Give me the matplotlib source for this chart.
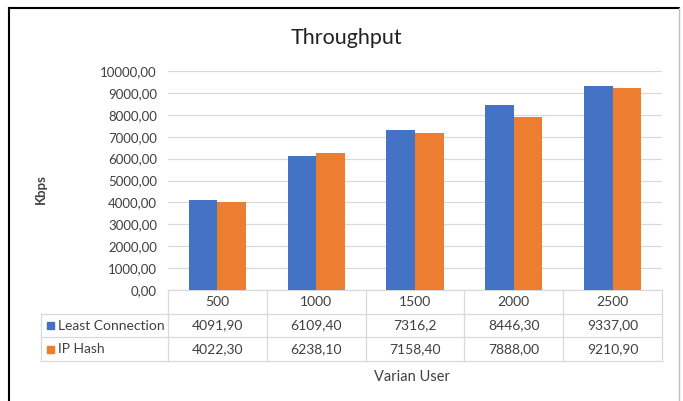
import matplotlib.pyplot as plt
from matplotlib.patches import Rectangle
from matplotlib.lines import Line2D

plt.rcParams['font.family'] = ['Lato', 'DejaVu Sans']

users = ["500", "1000", "1500", "2000", "2500"]
least_conn = [4091.90, 6109.40, 7316.2, 8446.30, 9337.00]
ip_hash = [4022.30, 6238.10, 7158.40, 7888.00, 9210.90]
least_conn_text = ["4091,90", "6109,40", "7316,2", "8446,30", "9337,00"]
ip_hash_text = ["4022,30", "6238,10", "7158,40", "7888,00", "9210,90"]
series_names = ["Least Connection", "IP Hash"]
yticks = [0, 1000, 2000, 3000, 4000, 5000, 6000, 7000, 8000, 9000, 10000]

blue = "#4472C4"
orange = "#ED7D31"
grid_c = "#D9D9D9"
text_c = "#404040"

W, H = 683, 401
fig = plt.figure(figsize=(W / 100, H / 100), dpi=100)
ax = fig.add_axes([168 / W, 1 - 290 / H, 494 / W, 219 / H])

x = list(range(len(users)))
bw = 0.29
ax.bar([i - bw / 2 for i in x], least_conn, width=bw, color=blue, zorder=3)
ax.bar([i + bw / 2 for i in x], ip_hash, width=bw, color=orange, zorder=3)

ax.set_xlim(-0.5, len(users) - 0.5)
ax.set_ylim(0, 10000)
ax.set_yticks(yticks)
ax.set_yticklabels([f"{v:.2f}".replace(".", ",") for v in yticks], fontsize=9.5, color=text_c)
ax.set_xticks([])
ax.tick_params(axis="y", length=0, pad=8)
ax.yaxis.grid(True, color=grid_c, linewidth=0.9, zorder=0)
for s in ax.spines.values():
    s.set_visible(False)

# data table under the plot
tr = ax.get_xaxis_transform()
row_h = 23.7 / 219
rows_y = [0, -row_h, -2 * row_h, -3 * row_h]
left_x = -0.5 - 127 / 99
right_x = len(users) - 0.5
lk = dict(transform=tr, color=grid_c, linewidth=0.9, clip_on=False)
ax.add_line(Line2D([-0.5, right_x], [0, 0], **lk))
for y in rows_y[1:]:
    ax.add_line(Line2D([left_x, right_x], [y, y], **lk))
for i in range(len(users) + 1):
    ax.add_line(Line2D([i - 0.5, i - 0.5], [rows_y[0], rows_y[3]], **lk))
ax.add_line(Line2D([left_x, left_x], [rows_y[1], rows_y[3]], **lk))

tk = dict(transform=tr, ha="center", va="center", fontsize=10, color=text_c, clip_on=False)
for i, u in enumerate(users):
    ax.text(i, -0.5 * row_h, u, **tk)
    ax.text(i, -1.5 * row_h, least_conn_text[i], **tk)
    ax.text(i, -2.5 * row_h, ip_hash_text[i], **tk)

for r, (name, col) in enumerate(zip(series_names, [blue, orange])):
    yc = -(1.5 + r) * row_h
    ax.add_patch(Rectangle((left_x + 0.055, yc - 0.016), 0.075, 0.032, transform=tr,
                           color=col, clip_on=False))
    ax.text(left_x + 0.17, yc, name, transform=tr, ha="left", va="center",
            fontsize=10, color=text_c, clip_on=False)

ax.set_ylabel("Kbps", fontsize=9.5, fontweight="bold", color=text_c)
ax.yaxis.set_label_coords((47 - 168) / 494, 0.46)

fig.text(412 / W, 1 - 377 / H, "Varian User", ha="center", va="center",
         fontsize=10.5, color=text_c)
fig.text(346 / W, 1 - 38 / H, "Throughput", ha="center", va="center",
         fontsize=15.5, color="#222222")

# chart frame
fig.add_artist(Line2D([9 / W, 9 / W], [0, 1 - 8 / H], transform=fig.transFigure,
                      color="black", linewidth=1.5))
fig.add_artist(Line2D([9 / W, 679 / W], [1 - 8 / H, 1 - 8 / H], transform=fig.transFigure,
                      color="black", linewidth=1.5))
fig.add_artist(Line2D([679 / W, 679 / W], [0, 1 - 8 / H], transform=fig.transFigure,
                      color="#BFBFBF", linewidth=1))

fig.savefig("out.png", dpi=100)
